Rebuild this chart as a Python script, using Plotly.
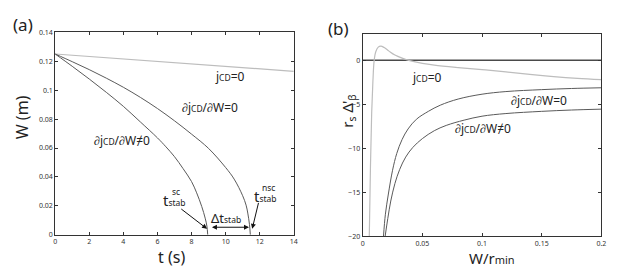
import plotly.graph_objects as go

# ---------------- data: panel (a) ----------------
t_nocd = [0, 7, 14]
w_nocd = [0.125, 0.1192, 0.113]

t_dj0 = [0, 1, 2, 3, 4, 5, 6, 7, 8, 9, 10, 10.5, 11, 11.2, 11.3, 11.4, 11.45]
w_dj0 = [0.125, 0.1197, 0.1142, 0.1083, 0.1020, 0.0950, 0.0873, 0.0788, 0.0696, 0.0597,
         0.0465, 0.0385, 0.0270, 0.0205, 0.0150, 0.0070, 0.0]

t_djn = [0, 1, 2, 3, 4, 5, 6, 6.5, 7, 7.5, 8, 8.3, 8.6, 8.8, 8.9, 8.95]
w_djn = [0.125, 0.1165, 0.1077, 0.0985, 0.0888, 0.0780, 0.0670, 0.0608, 0.0540, 0.0458,
         0.0368, 0.0290, 0.0195, 0.0115, 0.0060, 0.0]

# ---------------- data: panel (b) ----------------
x_nocd = [0.0055, 0.0065, 0.0075, 0.0085, 0.0096, 0.011, 0.013, 0.0152, 0.018, 0.022, 0.027,
          0.033, 0.0386, 0.05, 0.06, 0.08, 0.1, 0.12, 0.14, 0.16, 0.18, 0.2]
d_nocd = [-20, -12, -6, -2.5, 0, 1.0, 1.5, 1.61, 1.45, 1.05, 0.6, 0.25, 0, -0.35, -0.55,
          -0.82, -1.05, -1.32, -1.6, -1.85, -2.05, -2.2]

x_dj0 = [0.0174, 0.019, 0.0215, 0.025, 0.0285, 0.033, 0.038, 0.045, 0.055, 0.065, 0.08,
         0.1, 0.12, 0.15, 0.175, 0.2]
d_dj0 = [-20, -17.5, -15.2, -12.5, -10.6, -9.0, -7.8, -6.7, -5.8, -5.1, -4.4, -3.85,
         -3.55, -3.33, -3.2, -3.12]

x_djn = [0.0188, 0.021, 0.0235, 0.027, 0.031, 0.036, 0.042, 0.05, 0.06, 0.07, 0.085, 0.1,
         0.12, 0.15, 0.175, 0.2]
d_djn = [-20, -18, -16, -14, -12.4, -11.0, -9.9, -8.9, -8.0, -7.4, -6.8, -6.35, -6.05,
         -5.8, -5.65, -5.55]

xa_ticks = [0, 2, 4, 6, 8, 10, 12, 14]
ya_ticks = [0, 0.02, 0.04, 0.06, 0.08, 0.1, 0.12, 0.14]
ya_text = ["0", "0.02", "0.04", "0.06", "0.08", "0.1", "0.12", "0.14"]
xb_ticks = [0, 0.05, 0.1, 0.15, 0.2]
xb_text = ["0", "0.05", "0.1", "0.15", "0.2"]
yb_ticks = [-20, -15, -10, -5, 0]
yb_text = ["\u221220", "\u221215", "\u221210", "\u22125", "0"]

W, H = 628, 267
FONT = "Noto Sans"
DARK = "#5a5a5a"
LIGHT = "#bdbdbd"

fig = go.Figure()
fig.add_trace(go.Scatter(x=t_nocd, y=w_nocd, mode="lines", line=dict(color=LIGHT, width=1.2),
                         xaxis="x", yaxis="y", showlegend=False))
fig.add_trace(go.Scatter(x=t_dj0, y=w_dj0, mode="lines", line=dict(color=DARK, width=1, shape="spline"),
                         xaxis="x", yaxis="y", showlegend=False))
fig.add_trace(go.Scatter(x=t_djn, y=w_djn, mode="lines", line=dict(color=DARK, width=1, shape="spline"),
                         xaxis="x", yaxis="y", showlegend=False))

fig.add_trace(go.Scatter(x=[0, 0.2], y=[0, 0], mode="lines", line=dict(color="#4a4a4a", width=1.5),
                         xaxis="x2", yaxis="y2", showlegend=False))
fig.add_trace(go.Scatter(x=x_nocd, y=d_nocd, mode="lines", line=dict(color=LIGHT, width=1.2, shape="spline"),
                         xaxis="x2", yaxis="y2", showlegend=False))
fig.add_trace(go.Scatter(x=x_dj0, y=d_dj0, mode="lines", line=dict(color=DARK, width=1, shape="spline"),
                         xaxis="x2", yaxis="y2", showlegend=False))
fig.add_trace(go.Scatter(x=x_djn, y=d_djn, mode="lines", line=dict(color=DARK, width=1, shape="spline"),
                         xaxis="x2", yaxis="y2", showlegend=False))

axis_common = dict(showgrid=False, zeroline=False, showline=True, linecolor="#333333", linewidth=1,
                   mirror="ticks", ticks="inside", ticklen=3, tickcolor="#333333",
                   tickfont=dict(family=FONT, size=7, color="#333333"))

fig.update_layout(
    width=W, height=H, autosize=False,
    margin=dict(l=0, r=0, t=0, b=0),
    paper_bgcolor="white", plot_bgcolor="white",
    xaxis=dict(domain=[45.7 / W, 287 / W], range=[0, 14], tickvals=xa_ticks, anchor="y", **axis_common),
    yaxis=dict(domain=[1 - 229.5 / H, 1 - 20 / H], range=[0, 0.14], tickvals=ya_ticks, ticktext=ya_text,
               anchor="x", **axis_common),
    xaxis2=dict(domain=[356.7 / W, 598 / W], range=[0, 0.2], tickvals=xb_ticks, ticktext=xb_text,
                anchor="y2", **axis_common),
    yaxis2=dict(domain=[1 - 231 / H, 1 - 21.7 / H], range=[-20, 3], tickvals=yb_ticks, ticktext=yb_text,
                anchor="x2", **axis_common),
)

S = "<span style='font-size:8.5px'>%s</span>"
lab = 12
anns = []

def data_text(text, x, y, xr, yr, size=lab):
    anns.append(dict(text=text, x=x, y=y, xref=xr, yref=yr, showarrow=False,
                     font=dict(family=FONT, size=size, color="#222222"), xanchor="center", yanchor="middle"))

def paper_text(text, px, py, size=15, angle=0):
    anns.append(dict(text=text, x=px / W, y=1 - py / H, xref="paper", yref="paper", showarrow=False,
                     textangle=angle, font=dict(family=FONT, size=size, color="#222222"),
                     xanchor="center", yanchor="middle"))

jcd = "j" + S % "CD"
# panel (a) labels
data_text(jcd + "=0", 10.23, 0.1093, "x", "y")
data_text("\u2202" + jcd + "/\u2202W=0", 9.07, 0.0879, "x", "y")
data_text("\u2202" + jcd + "/\u2202W\u22600", 3.91, 0.0652, "x", "y")
data_text("t" + S % "stab", 7.0, 0.0243, "x", "y", size=15)
data_text(S % "sc", 7.1, 0.0298, "x", "y")
data_text("\u0394t" + S % "stab", 10.05, 0.0115, "x", "y", size=13)
data_text("t" + S % "stab", 12.35, 0.0268, "x", "y", size=15)
data_text(S % "nsc", 12.5, 0.0328, "x", "y")

arrow = dict(showarrow=True, arrowhead=2, arrowsize=1, arrowwidth=1, arrowcolor="#111111",
             xref="x", yref="y", axref="x", ayref="y", text="")
anns.append(dict(x=8.91, y=0.0041, ax=7.31, ay=0.0186, **arrow))
anns.append(dict(x=11.56, y=0.0041, ax=11.95, ay=0.0231, **arrow))
anns.append(dict(x=11.37, y=0.0052, ax=9.11, ay=0.0052, arrowside="end+start", **arrow))

# panel (b) labels
data_text(jcd + "=0", 0.0541, -1.9, "x2", "y2")
data_text("\u2202" + jcd + "/\u2202W=0", 0.1478, -4.53, "x2", "y2")
data_text("\u2202" + jcd + "/\u2202W\u22600", 0.1005, -7.71, "x2", "y2")

# panel letters and axis titles
paper_text("(a)", 13, 12, size=17)
paper_text("(b)", 332, 16, size=17)
paper_text("W (m)", 13, 108, size=16, angle=-90)
paper_text("t (s)", 163, 253, size=16)
paper_text("r<sub>s</sub> \u0394'<sub>\u03b2</sub>", 341, 102, size=15, angle=-90)
paper_text("W/r" + "<span style='font-size:11px'>min</span>", 487, 253.5, size=15)

fig.update_layout(annotations=anns)
fig.write_html("out.html")
